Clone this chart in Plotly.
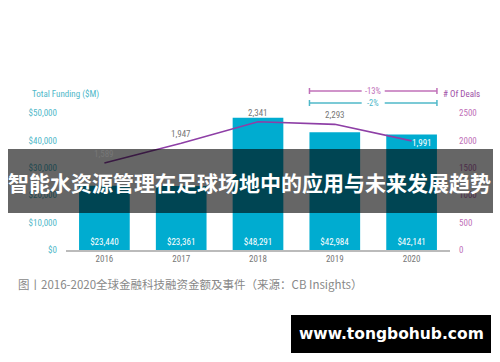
import plotly.graph_objects as go

years = ["2016", "2017", "2018", "2019", "2020"]
funding = [23440, 23361, 48291, 42984, 42141]
deals = [1589, 1947, 2341, 2293, 1991]
left_ticks = [0, 10000, 20000, 30000, 40000, 50000]
left_tick_text = ["$0", "$10,000", "$20,000", "$30,000", "$40,000", "$50,000"]
right_ticks = [0, 500, 1000, 1500, 2000, 2500]
right_tick_text = ["0", "500", "1000", "1500", "2000", "2500"]
bracket_labels = ["-13%", "-2%"]
title_text = "智能水资源管理在足球场地中的应用与未来发展趋势"
caption_text = "图丨2016-2020全球金融科技融资金额及事件（来源：CB Insights）"
watermark_text = "www.tongbohub.com"

NARROW = "Roboto Condensed, Liberation Sans Narrow, Roboto, sans-serif"
FS = 9
BAR_C = "#00acd0"
LINE_C = "#8e3fa6"
TEAL = "#4fb8c9"
PINK = "#c070b8"

fig = go.Figure()
fig.add_trace(go.Bar(
    x=years, y=funding, width=0.66, marker=dict(color=BAR_C, line=dict(width=0)),
    text=[f"${v:,}" for v in funding], textposition="inside", insidetextanchor="start",
    textangle=0, textfont=dict(color="white", size=FS, family=NARROW),
    hoverinfo="skip", cliponaxis=False,
))
fig.add_trace(go.Scatter(
    x=years, y=deals, yaxis="y2", mode="lines",
    line=dict(color=LINE_C, width=1.6), hoverinfo="skip",
))

annotations = []
for i, d in enumerate(deals):
    last = i == len(deals) - 1
    annotations.append(dict(
        x=i, y=d, xref="x", yref="y2", text=f"{d:,}", showarrow=False,
        font=dict(color="white" if last else "#777", size=FS, family=NARROW),
        xshift=10 if last else 0, yshift=-2 if last else 9,
        xanchor="center", yanchor="middle",
    ))

annotations.append(dict(x=30/500, y=(362-94)/362, xref="paper", yref="paper",
                        text="Total Funding ($M)", showarrow=False, xanchor="left",
                        yanchor="middle", font=dict(color=TEAL, size=FS, family=NARROW)))
annotations.append(dict(x=441/500, y=(362-94)/362, xref="paper", yref="paper",
                        text="# Of Deals", showarrow=False, xanchor="left",
                        yanchor="middle", font=dict(color="#a050a8", size=FS, family=NARROW)))

shapes = []
bx0, bx1 = 3 - 0.33, 4 + 0.33
bc = (bx0 + bx1) / 2
for lab, ypx, col in [(bracket_labels[0], 91, PINK), (bracket_labels[1], 103, TEAL)]:
    yf = (362 - ypx) / 362
    dy = 3 / 362
    for a, b in [(bx0, bc - 0.15), (bc + 0.15, bx1)]:
        shapes.append(dict(type="line", xref="x", yref="paper", x0=a, x1=b, y0=yf, y1=yf,
                           line=dict(color=col, width=1.5)))
    for xx in (bx0, bx1):
        shapes.append(dict(type="line", xref="x", yref="paper", x0=xx, x1=xx, y0=yf-dy, y1=yf+dy,
                           line=dict(color=col, width=1.5)))
    annotations.append(dict(x=bc, y=yf, xref="x", yref="paper", text=lab, showarrow=False,
                            font=dict(color=col, size=8.5, family=NARROW),
                            xanchor="center", yanchor="middle"))

shapes.append(dict(type="rect", xref="paper", yref="paper", x0=8/500, x1=493/500,
                   y0=(362-213)/362, y1=(362-149)/362, fillcolor="rgba(0,0,0,0.6)",
                   line=dict(width=0), layer="above"))
annotations.append(dict(x=249/500, y=(362-182)/362, xref="paper", yref="paper",
                        text=f"<b>{title_text}</b>", showarrow=False,
                        xanchor="center", yanchor="middle",
                        font=dict(color="white", size=21, family="Noto Sans CJK SC")))

annotations.append(dict(x=16/500, y=(362-284)/362, xref="paper", yref="paper",
                        text=caption_text, showarrow=False, xanchor="left", yanchor="middle",
                        font=dict(color="#888", size=11.5, family="Noto Sans CJK SC")))

shapes.append(dict(type="rect", xref="paper", yref="paper", x0=291/500, x1=491/500,
                   y0=(362-353)/362, y1=(362-315)/362, fillcolor="black",
                   line=dict(width=0), layer="above"))
annotations.append(dict(x=391/500, y=(362-334)/362, xref="paper", yref="paper",
                        text=f"<b>{watermark_text}</b>", showarrow=False,
                        xanchor="center", yanchor="middle",
                        font=dict(color="white", size=15.5, family="DejaVu Sans")))

ydom = [(362-250)/362, (362-99.3)/362]
fig.update_layout(
    width=500, height=362, margin=dict(l=0, r=0, t=0, b=0),
    paper_bgcolor="white", plot_bgcolor="white", showlegend=False,
    bargap=0.34, hovermode=False,
    xaxis=dict(domain=[66/500, 450/500], type="category", range=[-0.5, 4.5],
               showline=True, linecolor="#bbbbbb", linewidth=1.5, ticks="",
               showgrid=False, zeroline=False, automargin=False,
               tickfont=dict(color="#777", size=FS, family=NARROW)),
    yaxis=dict(domain=ydom, range=[0, 55000], tickvals=left_ticks, ticktext=left_tick_text,
               showgrid=False, zeroline=False, showline=False, ticks="", automargin=False,
               ticklabelstandoff=8,
               tickfont=dict(color=TEAL, size=FS, family=NARROW)),
    yaxis2=dict(overlaying="y", side="right", range=[0, 2750], tickvals=right_ticks,
                ticktext=right_tick_text, showgrid=False, zeroline=False, showline=False,
                ticks="", ticklabelstandoff=8, automargin=False,
                tickfont=dict(color=PINK, size=FS, family=NARROW)),
    shapes=shapes, annotations=annotations,
)

fig.write_html("out.html", config={"displayModeBar": False, "staticPlot": True},
               post_script="document.body.style.margin='0';document.body.style.padding='0';document.body.style.overflow='hidden';")
